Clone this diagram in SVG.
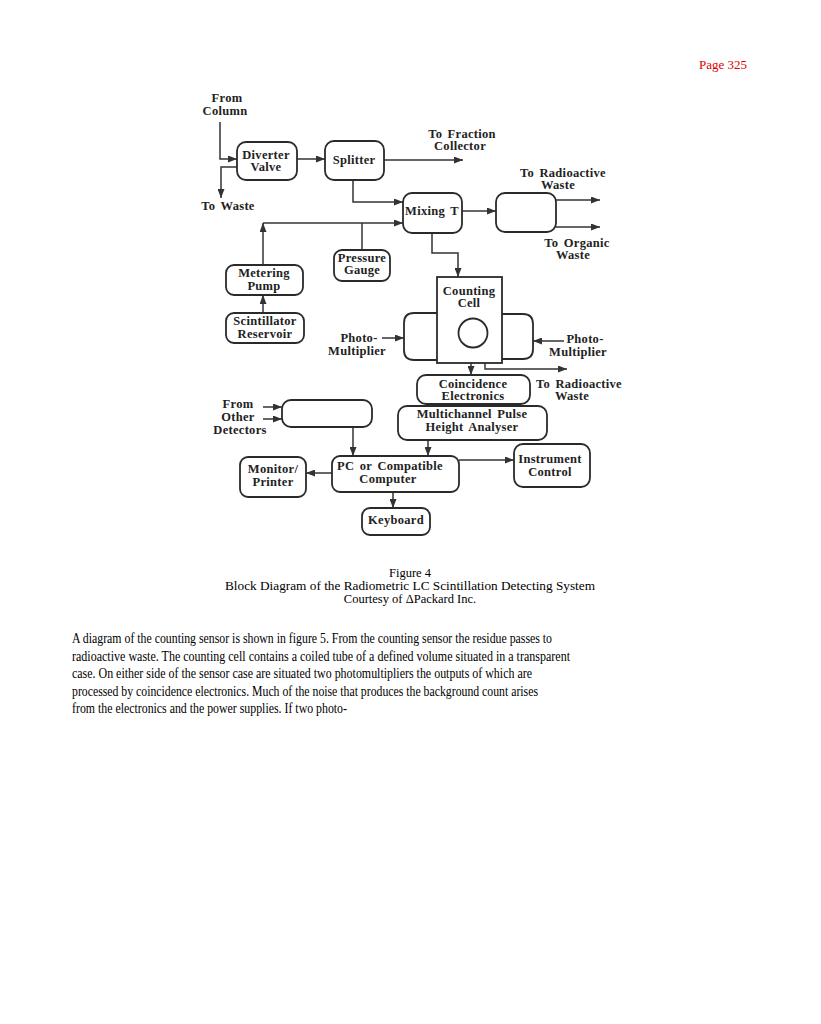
<svg xmlns="http://www.w3.org/2000/svg" width="821" height="1024" viewBox="0 0 821 1024">
<style>
.box{fill:none;stroke:#2a2a2a;stroke-width:1.8}
.ln{fill:none;stroke:#333;stroke-width:1.5}
.ar{marker-end:url(#ah)}
.t{font-family:"Liberation Serif","Times New Roman",serif;font-weight:bold;font-size:12.5px;letter-spacing:0.3px;word-spacing:2px;fill:#222;text-anchor:middle}
.cap{font-family:"Liberation Serif","Times New Roman",serif;font-size:12.5px;fill:#000;text-anchor:middle}
.body{font-family:"Liberation Serif","Times New Roman",serif;font-size:15px;fill:#000}
</style>
<defs>
<marker id="ah" viewBox="0 0 9 7" refX="9" refY="3.5" markerWidth="9" markerHeight="7" markerUnits="userSpaceOnUse" orient="auto">
<path d="M0,0 L9,3.5 L0,7 z" fill="#333"/>
</marker>
</defs>
<rect x="0" y="0" width="821" height="1024" fill="#fff"/>
<text x="747" y="69" font-family="Liberation Serif,Times New Roman,serif" font-size="13" fill="#e00000" text-anchor="end">Page 325</text>

<g id="connectors">
<path class="ln ar" d="M220,122 V159 H237"/>
<path class="ln ar" d="M237,167 H221 V198"/>
<path class="ln ar" d="M297,159 H325"/>
<path class="ln ar" d="M384,160 H463"/>
<path class="ln ar" d="M353,180 V202 H403"/>
<path class="ln ar" d="M263,265 V223"/>
<path class="ln ar" d="M263,223 H403"/>
<path class="ln" d="M362,223 V250"/>
<path class="ln ar" d="M462,211 H496"/>
<path class="ln ar" d="M556,200 H600"/>
<path class="ln ar" d="M556,227 H600"/>
<path class="ln ar" d="M432,233 V253 H458 V277"/>
<path class="ln ar" d="M263,313 V295"/>
<path class="ln ar" d="M382,338 H404"/>
<path class="ln ar" d="M564,341 H533"/>
<path class="ln ar" d="M471,363 V375"/>
<path class="ln ar" d="M485,363 V369 H567"/>
<path class="ln ar" d="M263,407 H282"/>
<path class="ln ar" d="M263,419 H282"/>
<path class="ln ar" d="M353,427 V456"/>
<path class="ln ar" d="M428,440 V456"/>
<path class="ln ar" d="M332,473 H306"/>
<path class="ln ar" d="M459,460 H514"/>
<path class="ln ar" d="M393,492 V508"/>
</g>

<g id="labels">
<text class="t" x="227" y="102">From</text>
<text class="t" x="225" y="115">Column</text>
<text class="t" x="228" y="210">To Waste</text>
<text class="t" x="462" y="138">To Fraction</text>
<text class="t" x="460" y="150">Collector</text>
<text class="t" x="563" y="177">To Radioactive</text>
<text class="t" x="558" y="189">Waste</text>
<text class="t" x="577" y="247">To Organic</text>
<text class="t" x="573" y="259">Waste</text>
<text class="t" x="359" y="342">Photo-</text>
<text class="t" x="357" y="355">Multiplier</text>
<text class="t" x="585" y="343">Photo-</text>
<text class="t" x="578" y="356">Multiplier</text>
<text class="t" x="579" y="388">To Radioactive</text>
<text class="t" x="572" y="400">Waste</text>
<text class="t" x="238" y="408">From</text>
<text class="t" x="238" y="421">Other</text>
<text class="t" x="240" y="434">Detectors</text>
</g>

<g id="diverter">
<rect class="box" x="237" y="142" width="60" height="38" rx="9"/>
<text class="t" x="266" y="159">Diverter</text>
<text class="t" x="266" y="171">Valve</text>
</g>
<g id="splitter">
<rect class="box" x="325" y="141" width="59" height="39" rx="9"/>
<text class="t" x="354" y="164">Splitter</text>
</g>
<g id="mixing">
<rect class="box" x="403" y="193" width="59" height="40" rx="9"/>
<text class="t" x="432" y="215">Mixing T</text>
</g>
<g id="separator">
<rect class="box" x="496" y="193" width="60" height="39" rx="9"/>
</g>
<g id="pressure">
<rect class="box" x="334" y="250" width="56" height="31" rx="8"/>
<text class="t" x="362" y="262">Pressure</text>
<text class="t" x="362" y="274">Gauge</text>
</g>
<g id="metering">
<rect class="box" x="226" y="265" width="77" height="30" rx="8"/>
<text class="t" x="264" y="277">Metering</text>
<text class="t" x="264" y="290">Pump</text>
</g>
<g id="scintillator">
<rect class="box" x="226" y="313" width="78" height="30" rx="8"/>
<text class="t" x="265" y="325">Scintillator</text>
<text class="t" x="265" y="338">Reservoir</text>
</g>
<g id="counting">
<rect class="box" x="437" y="277" width="65" height="86"/>
<circle class="box" cx="473" cy="333" r="14.5"/>
<text class="t" x="469" y="295">Counting</text>
<text class="t" x="469" y="307">Cell</text>
</g>
<g id="pm-left">
<path class="box" d="M437,313 H414 Q404,313 404,323 V350 Q404,360 414,360 H437"/>
</g>
<g id="pm-right">
<path class="box" d="M502,314 H523 Q533,314 533,324 V349 Q533,359 523,359 H502"/>
</g>
<g id="coincidence">
<rect class="box" x="417" y="375" width="113" height="29" rx="9"/>
<text class="t" x="473" y="388">Coincidence</text>
<text class="t" x="473" y="400">Electronics</text>
</g>
<g id="mca">
<rect class="box" x="398" y="406" width="149" height="34" rx="9"/>
<text class="t" x="472" y="418">Multichannel Pulse</text>
<text class="t" x="472" y="431">Height Analyser</text>
</g>
<g id="other">
<rect class="box" x="282" y="400" width="90" height="27" rx="9"/>
</g>
<g id="pc">
<rect class="box" x="332" y="456" width="127" height="36" rx="8"/>
<text class="t" x="390" y="470">PC or Compatible</text>
<text class="t" x="388" y="483">Computer</text>
</g>
<g id="monitor">
<rect class="box" x="240" y="457" width="66" height="40" rx="8"/>
<text class="t" x="273" y="473">Monitor/</text>
<text class="t" x="273" y="486">Printer</text>
</g>
<g id="instrument">
<rect class="box" x="514" y="444" width="76" height="43" rx="9"/>
<text class="t" x="550" y="463">Instrument</text>
<text class="t" x="550" y="476">Control</text>
</g>
<g id="keyboard">
<rect class="box" x="362" y="508" width="68" height="27" rx="8"/>
<text class="t" x="396" y="524">Keyboard</text>
</g>

<g id="caption">
<text class="cap" x="410" y="577">Figure 4</text>
<text class="cap" x="410" y="590" textLength="370" lengthAdjust="spacingAndGlyphs">Block Diagram of the Radiometric LC Scintillation Detecting System</text>
<text class="cap" x="410" y="603">Courtesy of ΔPackard Inc.</text>
</g>
<g id="body">
<text class="body" x="72" y="643" textLength="480" lengthAdjust="spacingAndGlyphs">A diagram of the counting sensor is shown in figure 5. From the counting sensor the residue passes to</text>
<text class="body" x="72" y="661" textLength="498" lengthAdjust="spacingAndGlyphs">radioactive waste. The counting cell contains a coiled tube of a defined volume situated in a transparent</text>
<text class="body" x="72" y="678" textLength="460" lengthAdjust="spacingAndGlyphs">case. On either side of the sensor case are situated two photomultipliers the outputs of which are</text>
<text class="body" x="72" y="696" textLength="466" lengthAdjust="spacingAndGlyphs">processed by coincidence electronics. Much of the noise that produces the background count arises</text>
<text class="body" x="72" y="713" textLength="275" lengthAdjust="spacingAndGlyphs">from the electronics and the power supplies. If two photo-</text>
</g>
</svg>
